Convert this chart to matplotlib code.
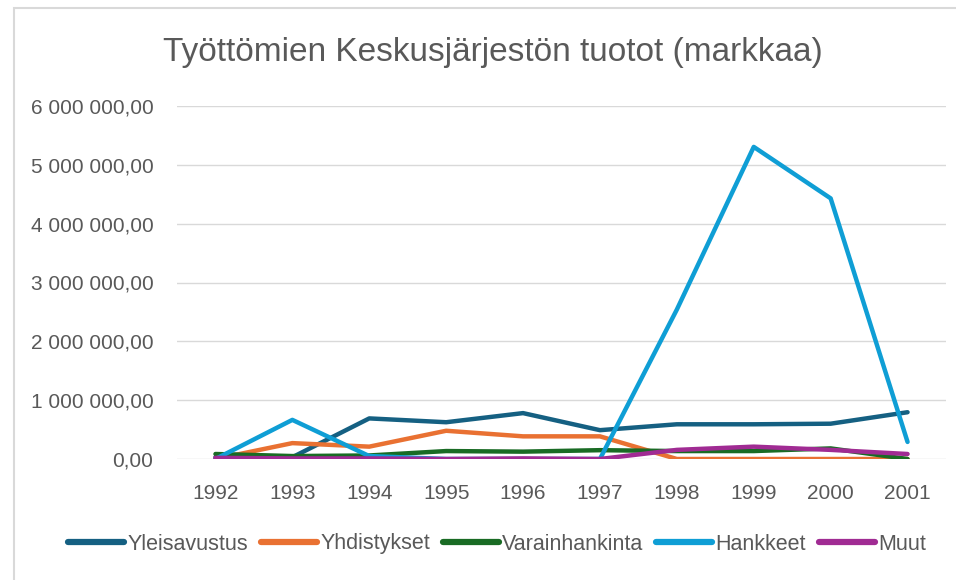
import matplotlib.pyplot as plt
import matplotlib.ticker as mticker
from matplotlib.patches import Rectangle

# Data (markkaa)
years = ['1992', '1993', '1994', '1995', '1996', '1997', '1998', '1999', '2000', '2001']
yleisavustus = [30000, 30000, 690000, 625000, 780000, 490000, 590000, 590000, 600000, 795000]
yhdistykset = [0, 270000, 210000, 480000, 385000, 385000, 0, 0, 0, 0]
varainhankinta = [85000, 50000, 60000, 135000, 125000, 150000, 135000, 135000, 180000, 0]
hankkeet = [0, 665000, 50000, 0, 0, 0, 2540000, 5305000, 4430000, 290000]
muut = [20000, 10000, 10000, 0, 10000, 0, 155000, 210000, 155000, 85000]

series = [
    ('Yleisavustus', yleisavustus, '#156082'),
    ('Yhdistykset', yhdistykset, '#E97132'),
    ('Varainhankinta', varainhankinta, '#196B24'),
    ('Hankkeet', hankkeet, '#0F9ED5'),
    ('Muut', muut, '#A02B93'),
]

plt.rcParams['font.family'] = ['Liberation Sans', 'DejaVu Sans']
text_col = '#595959'

fig = plt.figure(figsize=(9.56, 5.8), dpi=100)
ax = fig.add_axes([177 / 956, 1 - 459 / 580, (946 - 177) / 956, (459 - 106) / 580])

x = list(range(len(years)))
for name, vals, col in series:
    ax.plot(x, vals, color=col, lw=3.2, label=name, solid_capstyle='round', solid_joinstyle='round')

ax.set_xlim(-0.5, len(years) - 0.5)
ax.set_ylim(0, 6000000)
ax.set_xticks(x)
ax.set_xticklabels(years)
ax.yaxis.set_major_locator(mticker.MultipleLocator(1000000))
ax.yaxis.set_major_formatter(mticker.FuncFormatter(
    lambda v, p: f'{v:,.2f}'.replace(',', ' ').replace('.', ',')))
ax.grid(axis='y', color='#D9D9D9', lw=1)
ax.set_axisbelow(True)
for s in ax.spines.values():
    s.set_visible(False)
ax.tick_params(axis='both', length=0, labelsize=15, colors=text_col)
ax.tick_params(axis='y', pad=17)
ax.tick_params(axis='x', pad=18)

fig.text(493 / 956, 1 - 53 / 580, 'Työttömien Keskusjärjestön tuotot (markkaa)',
         ha='center', va='center', fontsize=24, color=text_col)

leg = fig.legend(loc='center', bbox_to_anchor=(497 / 956, 1 - 544 / 580), ncol=5,
                 frameon=False, fontsize=15.5, handlelength=2.6, handletextpad=0.15,
                 columnspacing=0.6, labelcolor=text_col)
for h in leg.get_lines():
    h.set_linewidth(4.5)
    h.set_solid_capstyle('round')

# chart border (cropped at right and bottom)
fig.add_artist(Rectangle((14 / 956, -0.1), 1.2, 1.1 - 8 / 580, transform=fig.transFigure,
                         fill=False, edgecolor='#D9D9D9', lw=1.5))

fig.savefig('out.png', dpi=100)
